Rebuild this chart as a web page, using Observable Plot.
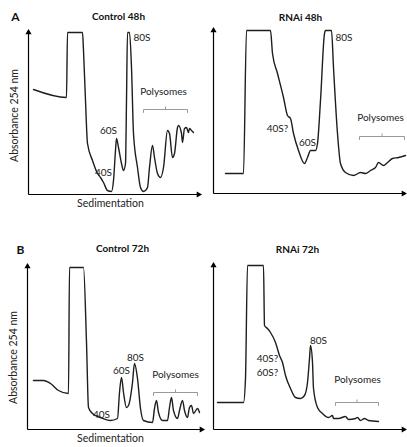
<!DOCTYPE html>
<html><head><meta charset="utf-8">
<script src="https://cdn.jsdelivr.net/npm/d3@7"></script>
<script src="https://cdn.jsdelivr.net/npm/@observablehq/plot@0.6"></script>
<style>
body{margin:0;background:#fff}
#fig{position:relative;width:407px;height:447px;overflow:hidden}
#fig > svg{position:absolute}
</style></head><body><div id="fig"></div>
<script>
// Absorbance traces: [sedimentation, absorbance] in arbitrary units
const control48 = [[5,105],[38,97],[39,162],[54,162],[55,144],[57,94],[59,51],[64,34],[69,21],[72,17],[75,12],[79,4],[83,3],[85,14],[87,44],[88,56],[90,47],[93,31],[95,24],[97,31],[98,94],[99,162],[101,162],[103,127],[105,61],[109,27],[112,7],[115,3],[119,7],[121,27],[124,49],[126,37],[129,21],[132,17],[135,27],[139,64],[141,61],[144,37],[146,41],[149,67],[150,69],[153,61],[154,52],[156,66],[158,67],[160,62],[161,66],[163,64],[165,62]];
const rnai48 = [[12,20],[30,20],[33,163],[57,163],[59,140],[64,120],[70,96],[74,78],[77,75],[80,60],[85,43],[91,30],[94,36],[97,43],[102,43],[104,50],[107,93],[111,160],[112,163],[118,163],[120,126],[124,60],[127,30],[132,21],[140,18],[147,21],[152,20],[157,23],[162,26],[165,31],[170,28],[174,31],[179,35],[185,36],[192,38]];
const control72 = [[6,49],[16,49],[23,46],[31,39],[41,36],[42,162],[56,162],[59,87],[61,22],[65,16],[73,12],[83,9],[90,11],[92,37],[94,52],[96,37],[99,22],[101,24],[105,47],[107,66],[110,51],[113,21],[116,9],[125,7],[127,21],[129,29],[131,17],[135,9],[140,9],[142,22],[144,32],[146,19],[150,11],[152,19],[155,29],[157,19],[160,12],[162,22],[164,24],[166,16],[170,21],[172,17]];
const rnai72 = [[4,27],[30,27],[32,51],[34,164],[50,164],[51,104],[54,101],[57,97],[62,87],[66,74],[69,67],[72,54],[77,41],[82,32],[87,31],[91,34],[94,47],[96,71],[97,84],[99,67],[100,41],[104,22],[109,16],[115,12],[119,14],[120,11],[125,11],[132,13],[135,10],[142,11],[144,12],[147,9],[151,11],[155,9],[165,8]];

const titles = ["Control 48h", "RNAi 48h", "Control 72h", "RNAi 72h"];
const panelLetters = ["A", "B"];
const yLabel = "Absorbance 254 nm";
const xLabel = "Sedimentation";
const polyLabel = "Polysomes";

const FONT = "Lato, 'Open Sans', sans-serif";

function panel(o) {
  const mid = o.peaks.filter(d => !d.a);
  const start = o.peaks.filter(d => d.a === "start");
  const marks = [
    Plot.link([[0,0,o.W,0],[0,0,0,o.H]], {x1:d=>d[0], y1:d=>d[1], x2:d=>d[2], y2:d=>d[3], stroke:"#000", strokeWidth:1.2}),
    Plot.dot([[o.W-2,0,90],[0,o.H-2,0]], {x:d=>d[0], y:d=>d[1], rotate:d=>d[2], symbol:"triangle", r:2.3, fill:"#000", stroke:"none"}),
    Plot.line(o.curve, {stroke:"#1e1e1e", strokeWidth:1.4, curve:"monotone-x"}),
    Plot.text(mid, {x:"x", y:"y", text:"t", textAnchor:"middle", fontSize:10, fill:"#222"}),
    Plot.text(start, {x:"x", y:"y", text:"t", textAnchor:"start", fontSize:10, fill:"#222"}),
    Plot.line([[o.br[0],o.br[2]-3],[o.br[0],o.br[2]],[o.br[1],o.br[2]],[o.br[1],o.br[2]-3]], {stroke:"#999", strokeWidth:1}),
    Plot.link([[ (o.br[0]+o.br[1])/2, o.br[2], (o.br[0]+o.br[1])/2, o.br[2]+3]], {x1:d=>d[0], y1:d=>d[1], x2:d=>d[2], y2:d=>d[3], stroke:"#999", strokeWidth:1}),
    Plot.text([polyLabel], {x:o.pl[0], y:o.pl[1], text:d=>d, fontSize:10, fill:"#222"}),
    Plot.text([o.title], {x:o.tl[0], y:o.tl[1], text:d=>d, fontSize:10, fontWeight:"bold", fill:"#111"})
  ];
  if (o.letter) marks.push(Plot.text([o.letter], {x:o.lt[0], y:o.lt[1], text:d=>d, fontSize:12, fontWeight:"bold", fill:"#111"}));
  if (o.ylab) marks.push(Plot.text([yLabel], {x:o.ylab[0], y:o.ylab[1], text:d=>d, rotate:-90, fontSize:10.5, fill:"#222"}));
  if (o.xlab) marks.push(Plot.text([xLabel], {x:o.xlab[0], y:o.xlab[1], text:d=>d, fontSize:10.5, fill:"#222"}));
  const svg = Plot.plot({
    width:o.width, height:o.height,
    marginLeft:o.ml, marginRight:o.mr, marginTop:o.mt, marginBottom:o.mb,
    x:{domain:[0,o.W], axis:null},
    y:{domain:[0,o.H], axis:null},
    style:{fontFamily:FONT, background:"transparent", overflow:"visible"},
    marks
  });
  svg.style.left = o.left + "px";
  svg.style.top = o.top + "px";
  return svg;
}

const fig = document.getElementById("fig");
fig.append(panel({
  curve:control48, W:172, H:164, left:0, top:0, width:204, height:215, ml:28, mr:4, mt:30, mb:21,
  title:titles[0], tl:[90,178], letter:panelLetters[0], lt:[-13,177],
  ylab:[-14,79], xlab:[82,-9],
  peaks:[{t:"80S",x:105,y:157,a:"start"},{t:"60S",x:80,y:64},{t:"40S",x:75,y:22}],
  br:[115,159,85], pl:[135,103]
}));
fig.append(panel({
  curve:rnai48, W:192, H:165, left:204, top:0, width:203, height:215, ml:9, mr:2, mt:28, mb:22,
  title:titles[1], tl:[87,176],
  peaks:[{t:"80S",x:122,y:156,a:"start"},{t:"40S?",x:64,y:65},{t:"60S",x:94,y:51}],
  br:[146,191,57], pl:[167,76]
}));
fig.append(panel({
  curve:control72, W:176, H:165, left:0, top:215, width:204, height:232, ml:27, mr:1, mt:49, mb:18,
  title:titles[2], tl:[95,181], letter:panelLetters[1], lt:[-7,179],
  ylab:[-14,72], xlab:[83,-9],
  peaks:[{t:"60S",x:94,y:59},{t:"80S",x:108,y:72},{t:"40S",x:74,y:15}],
  br:[126,170,37], pl:[148,55]
}));
fig.append(panel({
  curve:rnai72, W:192, H:166, left:204, top:215, width:203, height:232, ml:9, mr:2, mt:48, mb:18,
  title:titles[3], tl:[84,180],
  peaks:[{t:"80S",x:105,y:89},{t:"40S?",x:54,y:71},{t:"60S?",x:54,y:57}],
  br:[122,165,27], pl:[144,50]
}));
</script></body></html>
